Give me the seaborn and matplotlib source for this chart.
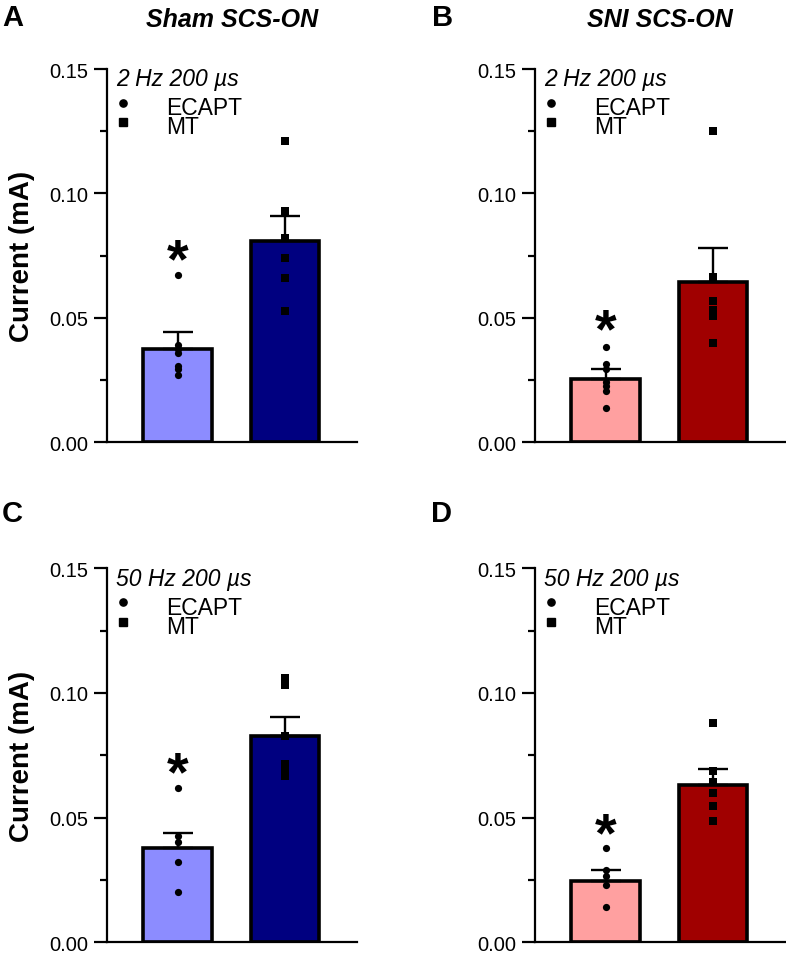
import matplotlib
matplotlib.use("Agg")
import matplotlib.pyplot as plt
from matplotlib.ticker import MultipleLocator, FormatStrFormatter
import seaborn as sns
import pandas as pd

sns.set_style("ticks")
plt.rcParams["font.family"] = ["Liberation Sans", "DejaVu Sans"]
plt.rcParams["text.color"] = "black"
plt.rcParams["axes.labelcolor"] = "black"
plt.rcParams["ytick.color"] = "black"
plt.rcParams["xtick.color"] = "black"
plt.rcParams["axes.edgecolor"] = "black"

# ---------------- data ----------------
conditions = ["ECAPT", "MT"]
panel_letters = ["A", "B", "C", "D"]
panel_titles = ["Sham SCS-ON", "SNI SCS-ON", "", ""]
panel_params = ["2 Hz 200 µs", "2 Hz 200 µs", "50 Hz 200 µs", "50 Hz 200 µs"]

mean_ecapt = [0.0375, 0.0254, 0.0377, 0.0247]
mean_mt = [0.0810, 0.0646, 0.0829, 0.0631]
sem_ecapt = [0.0067, 0.0041, 0.0062, 0.0041]
sem_mt = [0.0101, 0.0133, 0.0073, 0.0064]

pts_ecapt_A = [0.0672, 0.0392, 0.0375, 0.0359, 0.0308, 0.0295, 0.0271]
pts_mt_A = [0.1212, 0.0928, 0.0820, 0.0741, 0.0659, 0.0529]
pts_ecapt_B = [0.0382, 0.0315, 0.0295, 0.0241, 0.0227, 0.0207, 0.0136]
pts_mt_B = [0.1252, 0.0663, 0.0569, 0.0533, 0.0509, 0.0399]
pts_ecapt_C = [0.0618, 0.0428, 0.0401, 0.0321, 0.0201]
pts_mt_C = [0.1059, 0.1032, 0.0829, 0.0715, 0.0695, 0.0668]
pts_ecapt_D = [0.0378, 0.0289, 0.0266, 0.0231, 0.0140]
pts_mt_D = [0.0878, 0.0686, 0.0642, 0.0597, 0.0545, 0.0485]

pts_ecapt = [pts_ecapt_A, pts_ecapt_B, pts_ecapt_C, pts_ecapt_D]
pts_mt = [pts_mt_A, pts_mt_B, pts_mt_C, pts_mt_D]

asterisk_y = [0.0777, 0.0496, 0.0725, 0.0481]

y_ticks = [0.00, 0.05, 0.10, 0.15]

# ---------------- styling ----------------
sham_colors = ["#8c8cff", "#000080"]
sni_colors = ["#ffa0a0", "#a00000"]
panel_colors = [sham_colors, sni_colors, sham_colors, sni_colors]

W, H = 786, 954
fig = plt.figure(figsize=(W / 100, H / 100), dpi=100)

# axes boxes in pixels: left, top(0.15), width, height
boxes = [(107, 70, 250, 373.3), (535, 70, 250, 373.3),
         (107, 569.3, 250, 374), (535, 569.3, 250, 374)]
letter_pos = [(2, 26), (432, 26), (2, 522), (431, 522)]

for i in range(4):
    l, t, w, h = boxes[i]
    ax = fig.add_axes([l / W, 1 - (t + h) / H, w / W, h / H])
    bars = pd.DataFrame({"cond": conditions, "val": [mean_ecapt[i], mean_mt[i]]})
    sns.barplot(data=bars, x="cond", y="val", hue="cond", order=conditions,
                palette=dict(zip(conditions, panel_colors[i])), legend=False,
                saturation=1, width=0.64, edgecolor="black", linewidth=2.6,
                ax=ax, zorder=2)
    ax.errorbar([0, 1], [mean_ecapt[i], mean_mt[i]],
                yerr=[[0, 0], [sem_ecapt[i], sem_mt[i]]], fmt="none",
                ecolor="black", elinewidth=1.7, capsize=10.5, capthick=1.7, zorder=3)
    d1 = pd.DataFrame({"cond": ["ECAPT"] * len(pts_ecapt[i]), "val": pts_ecapt[i]})
    d2 = pd.DataFrame({"cond": ["MT"] * len(pts_mt[i]), "val": pts_mt[i]})
    sns.stripplot(data=d1, x="cond", y="val", order=conditions, jitter=False,
                  color="black", marker="o", size=5.2, linewidth=0, ax=ax, zorder=4)
    sns.stripplot(data=d2, x="cond", y="val", order=conditions, jitter=False,
                  color="black", marker="s", size=5.2, linewidth=0, ax=ax, zorder=4)
    ax.text(0, asterisk_y[i] - 0.0055, "*", ha="center", va="center",
            fontsize=40, fontweight="bold", color="black", zorder=5)

    ax.set_ylim(0, 0.15)
    ax.set_xlim(-0.66, 1.67)
    ax.set_yticks(y_ticks)
    ax.yaxis.set_major_formatter(FormatStrFormatter("%.2f"))
    ax.yaxis.set_minor_locator(MultipleLocator(0.025))
    ax.set_xticks([])
    ax.set_xlabel("")
    ax.set_ylabel("")
    for s in ["top", "right"]:
        ax.spines[s].set_visible(False)
    for s in ["left", "bottom"]:
        ax.spines[s].set_linewidth(1.6)
        ax.spines[s].set_color("black")
    ax.tick_params(axis="y", which="major", length=9.5, width=1.6, pad=4,
                   labelsize=14.5, colors="black")
    ax.tick_params(axis="y", which="minor", length=5, width=1.6, colors="black")
    if i in (0, 2):
        ax.set_ylabel("Current (mA)", fontsize=20, fontweight="bold", color="black")
        ax.yaxis.set_label_coords(-0.288, 0.5)

    # legend block
    ax.text(0.036, 0.956, panel_params[i], transform=ax.transAxes, ha="left",
            va="baseline", fontsize=16.5, style="italic")
    ax.plot([0.063], [0.909], transform=ax.transAxes, marker="o", ms=5.2,
            color="black", ls="", clip_on=False)
    ax.plot([0.063], [0.857], transform=ax.transAxes, marker="s", ms=5.2,
            color="black", ls="", clip_on=False)
    ax.text(0.235, 0.927, "\n".join(conditions), transform=ax.transAxes,
            ha="left", va="top", fontsize=16.5, linespacing=0.78)

    if panel_titles[i]:
        fig.text((l + w / 2) / W, 1 - 26.7 / H, panel_titles[i], ha="center",
                 va="baseline", fontsize=18, fontweight="bold", style="italic")
    lx, ly = letter_pos[i]
    fig.text(lx / W, 1 - ly / H, panel_letters[i], ha="left", va="baseline",
             fontsize=21, fontweight="bold")

fig.savefig("out.png", dpi=100)
